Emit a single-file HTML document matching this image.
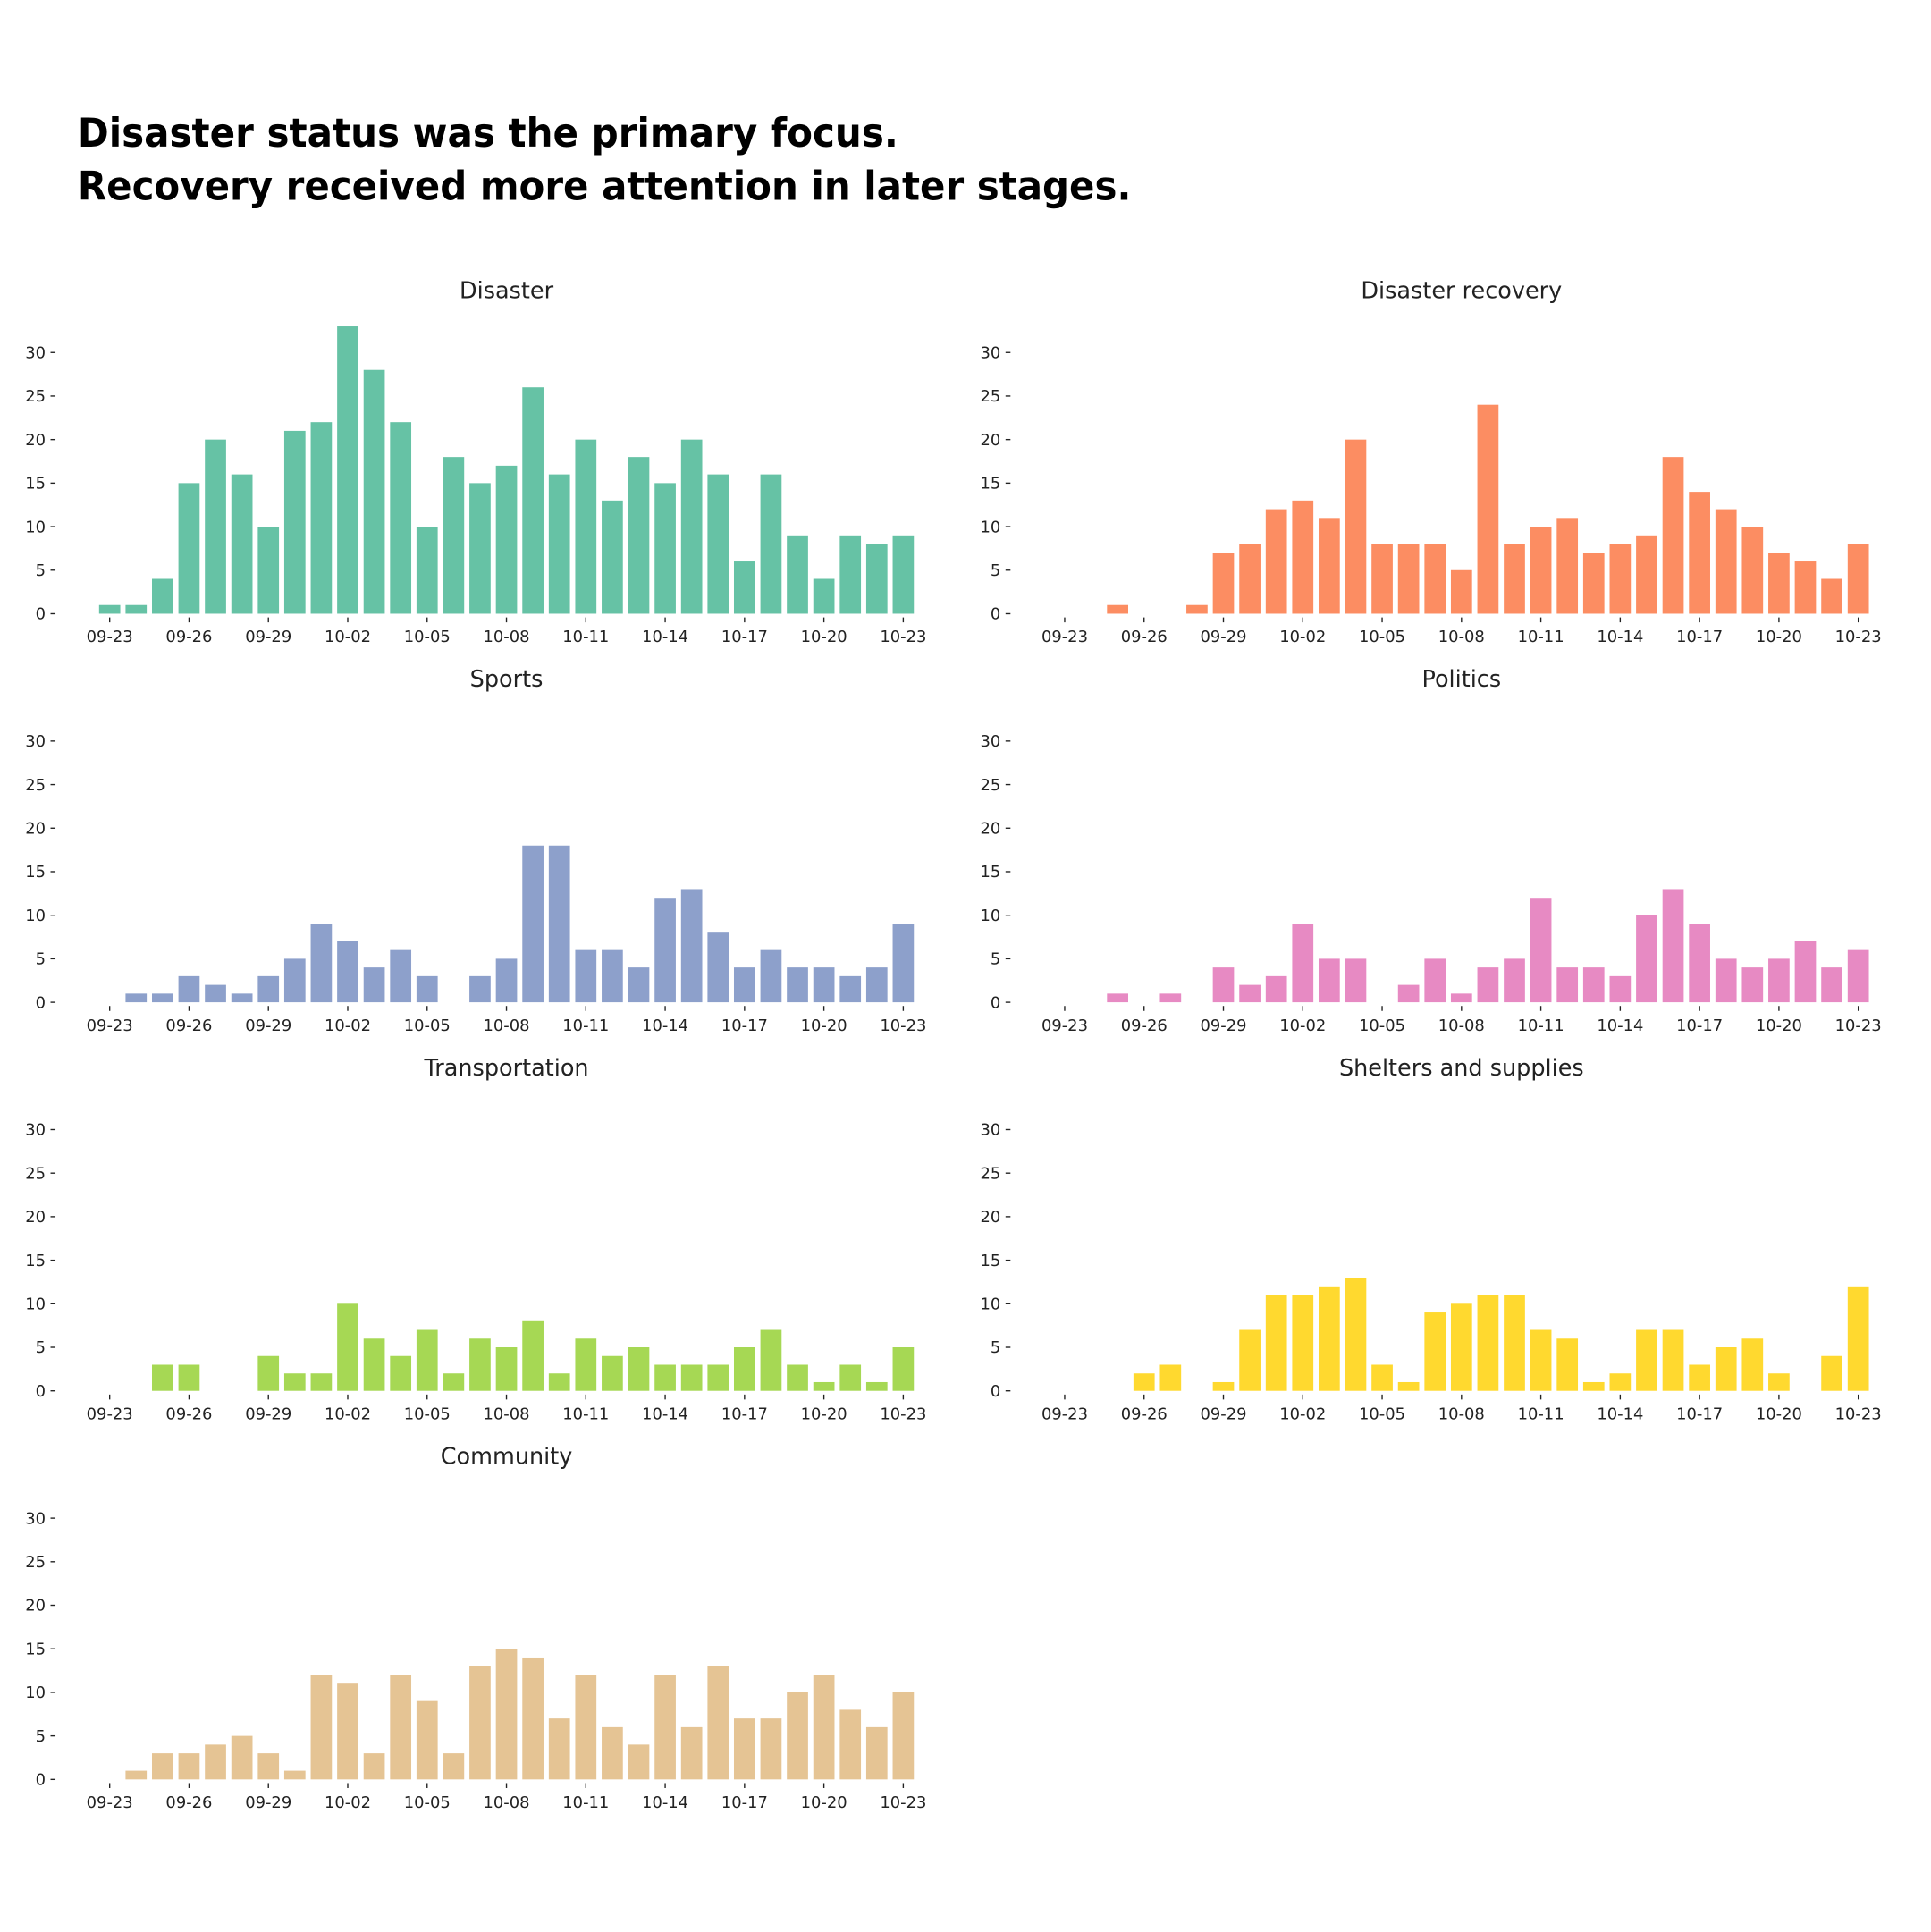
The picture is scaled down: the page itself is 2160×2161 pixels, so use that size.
<!DOCTYPE html>
<html><head><meta charset="utf-8"><style>
html,body{margin:0;padding:0;background:#fff;}
svg{display:block;font-family:"DejaVu Sans","Liberation Sans",sans-serif;}
</style></head><body>
<svg id="chart" width="2160" height="2161" viewBox="0 0 1567 1567.7" xmlns="http://www.w3.org/2000/svg">
<text x="63" y="119" font-size="32" font-weight="bold" fill="#000" textLength="666" lengthAdjust="spacingAndGlyphs">Disaster status was the primary focus.</text>
<text x="63" y="162" font-size="32" font-weight="bold" fill="#000" textLength="855" lengthAdjust="spacingAndGlyphs">Recovery received more attention in later stages.</text>
<g id="panels"></g>
</svg>
<script>
const dates = ["09-23","09-24","09-25","09-26","09-27","09-28","09-29","09-30","10-01","10-02","10-03","10-04","10-05","10-06","10-07","10-08","10-09","10-10","10-11","10-12","10-13","10-14","10-15","10-16","10-17","10-18","10-19","10-20","10-21","10-22","10-23"];
const yTicks = [0,5,10,15,20,25,30];
const panelTitles = ["Disaster","Disaster recovery","Sports","Politics","Transportation","Shelters and supplies","Community"];
const disaster = [1,1,4,15,20,16,10,21,22,33,28,22,10,18,15,17,26,16,20,13,18,15,20,16,6,16,9,4,9,8,9];
const recovery = [0,0,1,0,0,1,7,8,12,13,11,20,8,8,8,5,24,8,10,11,7,8,9,18,14,12,10,7,6,4,8];
const sports = [0,1,1,3,2,1,3,5,9,7,4,6,3,0,3,5,18,18,6,6,4,12,13,8,4,6,4,4,3,4,9];
const politics = [0,0,1,0,1,0,4,2,3,9,5,5,0,2,5,1,4,5,12,4,4,3,10,13,9,5,4,5,7,4,6];
const transportation = [0,0,3,3,0,0,4,2,2,10,6,4,7,2,6,5,8,2,6,4,5,3,3,3,5,7,3,1,3,1,5];
const shelters = [0,0,0,2,3,0,1,7,11,11,12,13,3,1,9,10,11,11,7,6,1,2,7,7,3,5,6,2,0,4,12];
const community = [0,1,3,3,4,5,3,1,12,11,3,12,9,3,13,15,14,7,12,6,4,12,6,13,7,7,10,12,8,6,10];
const seriesList = [disaster,recovery,sports,politics,transportation,shelters,community];
const colors = ["#66c2a5","#fc8d62","#8da0cb","#e78ac3","#a6d854","#ffd92f","#e5c494"];
const NS="http://www.w3.org/2000/svg";
const root=document.getElementById("panels");
function mk(tag,attrs,parent){const e=document.createElementNS(NS,tag);for(const k in attrs)e.setAttribute(k,attrs[k]);parent.appendChild(e);return e;}
const slugs=["disaster","disaster-recovery","sports","politics","transportation","shelters-and-supplies","community"];
seriesList.forEach((vals,p)=>{
  const col=p%2,row=Math.floor(p/2);
  const x0 = col===0?89:864;
  const dx = (733-89)/30;
  const y0 = 498+row*315.3;
  const ky = (498-286)/30;
  const xs=i=>x0+i*dx;
  const ys=v=>y0-v*ky;
  const g=mk("g",{},root);
  
  
  const t=mk("text",{x:x0+322,y:y0-256,"font-size":18.5,"text-anchor":"middle",fill:"#222"},g);
  
  
  t.textContent=panelTitles[p];
  const axL = x0-44;
  yTicks.forEach(v=>{
    const l=mk("text",{x:axL-8,y:ys(v)+4.5,"font-size":13,"text-anchor":"end",fill:"#222"},g);
    
    
    l.textContent=v;
    const tk=mk("line",{x1:axL-4,x2:axL,y1:ys(v),y2:ys(v),stroke:"#222","stroke-width":1},g);
    
    
  });
  vals.forEach((v,i)=>{
    if(v<=0)return;
    const r=mk("rect",{x:xs(i)-8.6,y:ys(v),width:17.2,height:v*ky,fill:colors[p]},g);
    
    
  });
  dates.forEach((d,i)=>{
    if(i%3!==0)return;
    const tk=mk("line",{x1:xs(i),x2:xs(i),y1:y0+3,y2:y0+7,stroke:"#222","stroke-width":1},g);
    
    
    const l=mk("text",{x:xs(i),y:y0+23,"font-size":13,"text-anchor":"middle",fill:"#222"},g);
    
    
    l.textContent=d;
  });
});
</script>
</body></html>
